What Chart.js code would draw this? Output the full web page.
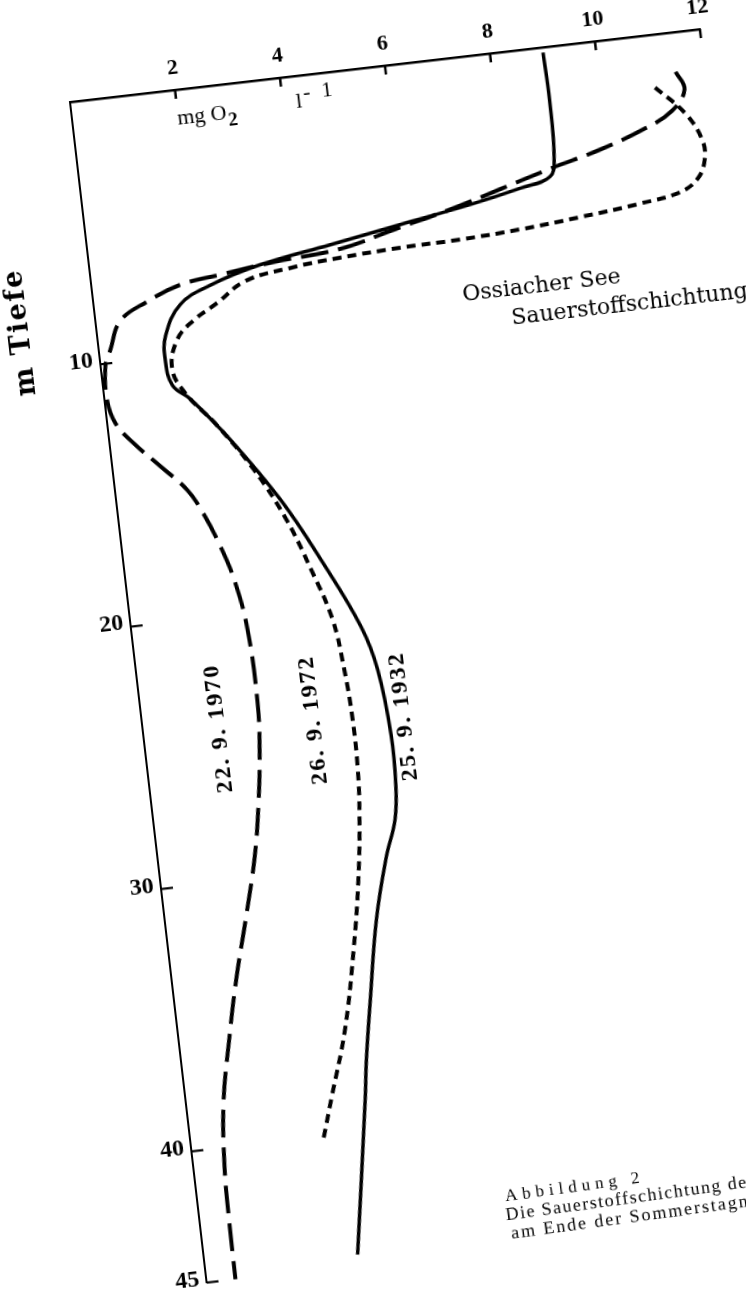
<!DOCTYPE html>
<html>
<head>
<meta charset="utf-8">
<script src="https://cdn.jsdelivr.net/npm/chart.js@4.4.1/dist/chart.umd.min.js"></script>
<style>
  html, body { margin: 0; padding: 0; background: #fff; width: 746px; height: 1289px; overflow: hidden; }
  #wrap { position: absolute; left: -50px; top: 2px; width: 900px; height: 1420px;
          transform-origin: 120px 100px; transform: rotate(-6.6deg); }
  canvas { display: block; }
</style>
</head>
<body>
<div id="wrap"><canvas id="c" width="900" height="1420"></canvas></div>
<script>
// Ossiacher See – oxygen profiles (depth in m, dissolved O2 in mg/l)
const depth1932  = [0.2, 2.0, 4.2, 4.9, 5.2, 5.6, 6.05, 6.5, 6.95, 7.5, 8.1, 9.2, 10.1, 11.1, 11.7, 13.4, 15.9, 18.3, 21.0, 22.7, 25.2, 27.1, 28.4, 29.8, 32.1, 35.0, 37.3, 38.8, 44.6];
const oxygen1932 = [9.0, 9.02, 8.98, 8.86, 8.28, 7.30, 5.94, 4.58, 3.22, 2.24, 1.63, 1.29, 1.23, 1.31, 1.62, 2.28, 3.10, 3.72, 4.33, 4.55, 4.66, 4.64, 4.55, 4.30, 3.98, 3.70, 3.49, 3.38, 2.90];

const depth1970  = [1.5, 2.2, 2.95, 3.5, 4.1, 4.6, 5.15, 5.7, 6.15, 6.7, 6.9, 7.15, 7.35, 7.85, 8.45, 9.5, 10.1, 11.4, 12.3, 13.1, 14.1, 15.1, 16.0, 17.3, 18.7, 20.6, 23.4, 25.3, 27.3, 29.2, 31.4, 33.7, 35.9, 38.3, 40.7, 42.6, 45.0];
const oxygen1970 = [11.45, 11.58, 11.3, 10.75, 9.86, 8.88, 7.9, 6.91, 5.93, 4.76, 3.51, 2.45, 1.68, 1.01, 0.47, 0.22, 0.09, 0.05, 0.16, 0.45, 0.91, 1.36, 1.6, 1.85, 2.05, 2.19, 2.22, 2.15, 2.01, 1.83, 1.54, 1.22, 0.96, 0.71, 0.59, 0.56, 0.55];

const depth1972  = [2.0, 3.1, 4.15, 4.9, 5.6, 6.05, 6.3, 6.55, 6.75, 6.87, 6.92, 7.03, 7.2, 7.5, 8.2, 8.75, 9.4, 10.5, 11.5, 12.8, 14.6, 16.6, 18.6, 20.6, 22.5, 24.4, 26.3, 28.1, 30.5, 33.1, 36.1, 38.6, 40.1];
const oxygen1972 = [11.03, 11.54, 11.8, 11.81, 11.64, 11.27, 10.5, 9.34, 8.19, 7.04, 5.89, 4.74, 3.78, 2.9, 2.33, 1.85, 1.5, 1.34, 1.55, 2.06, 2.65, 3.15, 3.51, 3.81, 3.92, 3.97, 3.96, 3.89, 3.73, 3.49, 3.15, 2.75, 2.51];

const xTicks = [2, 4, 6, 8, 10, 12];
const yTicks = [10, 20, 30, 40, 45];
const seriesNames = ['25. 9. 1932', '22. 9. 1970', '26. 9. 1972'];
const titleLines = ['Ossiacher See', 'Sauerstoffschichtung'];
const captionLines = ['Abbildung 2', 'Die Sauerstoffschichtung des Ossiacher Sees', 'am Ende der Sommerstagnation'];

const toPoints = (depths, values) => depths.map((d, i) => ({ x: values[i], y: d }));

function drawText(ctx, s, x, y, font, align, base, rot, spacing) {
  ctx.save();
  ctx.translate(x, y);
  if (rot) ctx.rotate(rot);
  ctx.font = font;
  ctx.textAlign = align;
  ctx.textBaseline = base;
  ctx.letterSpacing = spacing || '0px';
  ctx.fillStyle = '#000';
  ctx.fillText(s, 0, 0);
  ctx.restore();
}

// tick marks pointing into the plot, axis captions, curve labels and caption
const decor = {
  id: 'decor',
  afterDraw(chart) {
    const { ctx, scales: { x, y } } = chart;
    const px = v => x.getPixelForValue(v);
    const py = d => y.getPixelForValue(d);
    ctx.save();
    ctx.strokeStyle = '#000';
    ctx.lineCap = 'butt';
    ctx.lineWidth = 2.5;
    xTicks.forEach(v => { ctx.beginPath(); ctx.moveTo(px(v), py(0)); ctx.lineTo(px(v), py(0) + 9); ctx.stroke(); });
    ctx.lineWidth = 2.2;
    yTicks.forEach(d => { ctx.beginPath(); ctx.moveTo(px(0), py(d)); ctx.lineTo(px(0) + 12, py(d)); ctx.stroke(); });
    ctx.restore();

    // unit below the x axis
    drawText(ctx, 'mg O', px(1.98), py(1.34), '22px "Liberation Serif"', 'left', 'alphabetic');
    ctx.save(); ctx.font = '22px "Liberation Serif"';
    const w = ctx.measureText('mg O').width; ctx.restore();
    drawText(ctx, '2', px(1.98) + w + 1, py(1.34) + 7, 'bold 19px "Liberation Serif"', 'left', 'alphabetic');
    drawText(ctx, 'l', px(4.25), py(1.21), '22px "Liberation Serif"', 'left', 'alphabetic');
    drawText(ctx, '-  1', px(4.25) + 8, py(1.21) - 8, '22px "Liberation Serif"', 'left', 'alphabetic');

    // depth caption
    drawText(ctx, 'm Tiefe', px(-1.42), py(8.45), 'bold 27px "DejaVu Serif"', 'center', 'middle', -Math.PI / 2, '2px');

    // curve labels
    const labelFont = 'bold 24px "Liberation Serif"';
    drawText(ctx, seriesNames[1], px(1.44), py(24.2), labelFont, 'center', 'middle', -Math.PI / 2, '2px');
    drawText(ctx, seriesNames[2], px(3.24), py(24.3), labelFont, 'center', 'middle', -Math.PI / 2, '2px');
    drawText(ctx, seriesNames[0], px(4.94), py(24.55), labelFont, 'center', 'middle', -Math.PI / 2, '2px');

    // title
    drawText(ctx, titleLines[0], px(6.96), py(9.21), '22px "DejaVu Serif"', 'left', 'alphabetic');
    drawText(ctx, titleLines[1], px(7.83), py(10.28), '22px "DejaVu Serif"', 'left', 'alphabetic');

    // figure caption
    ctx.save();
    ctx.translate(px(5.8), py(43.24));
    ctx.rotate(-1.2 * Math.PI / 180);
    drawText(ctx, captionLines[0], 0, 0, '17px "Liberation Serif"', 'left', 'alphabetic', 0, '5px');
    drawText(ctx, captionLines[1], -2, 19, '18px "Liberation Serif"', 'left', 'alphabetic', 0, '1.5px');
    drawText(ctx, captionLines[2], 1, 38, '18px "Liberation Serif"', 'left', 'alphabetic', 0, '2px');
    ctx.restore();
  }
};

const lineStyle = { showLine: true, pointRadius: 0, borderColor: '#000', tension: 0.4, clip: false, fill: false };

new Chart(document.getElementById('c'), {
  type: 'scatter',
  data: {
    datasets: [
      { ...lineStyle, label: seriesNames[0], data: toPoints(depth1932, oxygen1932), borderWidth: 3.5 },
      { ...lineStyle, label: seriesNames[1], data: toPoints(depth1970, oxygen1970), borderWidth: 4, borderDash: [28, 10] },
      { ...lineStyle, label: seriesNames[2], data: toPoints(depth1972, oxygen1972), borderWidth: 4, borderDash: [9, 6] }
    ]
  },
  options: {
    responsive: false,
    animation: false,
    devicePixelRatio: 1,
    layout: { padding: { left: 0, top: 0, right: 145.9, bottom: 131.5 } },
    plugins: { legend: { display: false }, tooltip: { enabled: false } },
    scales: {
      x: {
        type: 'linear', position: 'top', min: 0, max: 12,
        afterFit(s) { s.height = 100; },
        afterBuildTicks(s) { s.ticks = xTicks.map(v => ({ value: v })); },
        grid: { display: false, drawTicks: false },
        border: { display: true, color: '#000', width: 2.5 },
        ticks: { color: '#000', padding: 8, maxRotation: 0, font: { family: 'Liberation Serif', size: 22, weight: 'bold' } }
      },
      y: {
        type: 'linear', reverse: true, min: 0, max: 45,
        afterFit(s) { s.width = 120; },
        afterBuildTicks(s) { s.ticks = yTicks.map(v => ({ value: v })); },
        grid: { display: false, drawTicks: false },
        border: { display: true, color: '#000', width: 2 },
        ticks: { color: '#000', padding: 7, labelOffset: -4, font: { family: 'Liberation Serif', size: 24, weight: 'bold' } }
      }
    }
  },
  plugins: [decor]
});
</script>
</body>
</html>
